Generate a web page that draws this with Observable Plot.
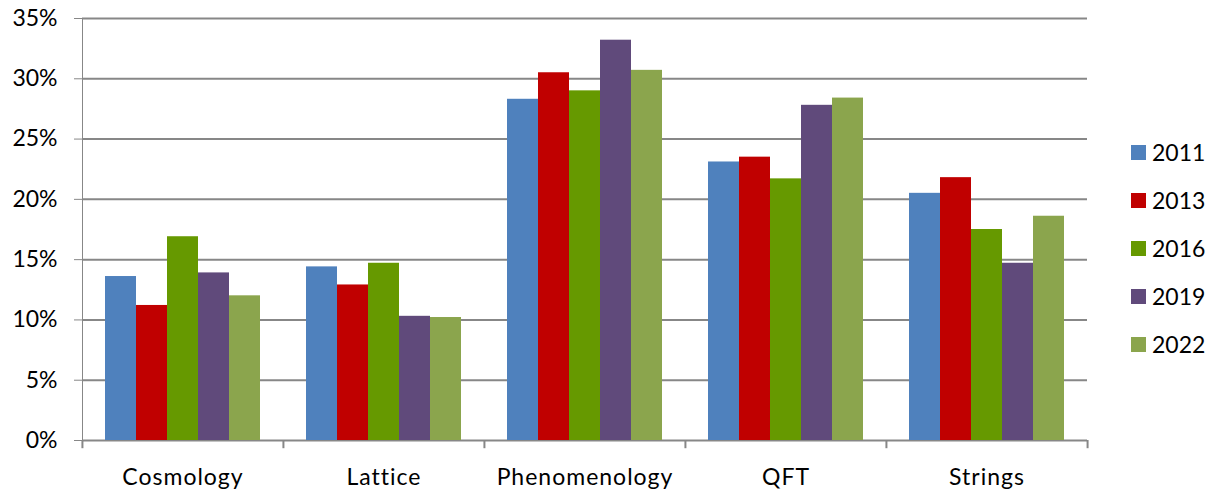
<!DOCTYPE html>
<html>
<head>
<meta charset="utf-8">
<script src="https://cdn.jsdelivr.net/npm/d3@7"></script>
<script src="https://cdn.jsdelivr.net/npm/@observablehq/plot@0.6"></script>
<style>
  html, body { margin: 0; padding: 0; background: #fff; }
  #wrap { position: relative; width: 1206px; height: 489px; font-family: Lato, "Open Sans", sans-serif; }
  #wrap svg { color: #878787; }
  #wrap svg text { fill: #000; }
  #wrap svg [aria-label="fx-axis tick label"] text, #wrap svg [aria-label="fx-axis"] text { letter-spacing: 1px; }
  .legend { position: absolute; left: 1131px; top: 0; font-size: 23px; color: #000; }
  .legend .item { position: absolute; left: 0; height: 24px; line-height: 24px; white-space: nowrap; }
  .legend .sw { display: inline-block; width: 15px; height: 15px; vertical-align: middle; margin-right: 6px; position: relative; top: -2px; }
</style>
</head>
<body>
<div id="wrap"></div>
<script>
const categories = ["Cosmology", "Lattice", "Phenomenology", "QFT", "Strings"];
const years = ["2011", "2013", "2016", "2019", "2022"];
const colors = ["#4F81BD", "#C00000", "#669900", "#604A7B", "#8BA54D"];
// share (%) per year, in category order
const v2011 = [13.6, 14.4, 28.3, 23.1, 20.5];
const v2013 = [11.2, 12.9, 30.5, 23.5, 21.8];
const v2016 = [16.9, 14.7, 29.0, 21.7, 17.5];
const v2019 = [13.9, 10.3, 33.2, 27.8, 14.7];
const v2022 = [12.0, 10.2, 30.7, 28.4, 18.6];
const yTicks = [0, 0.05, 0.10, 0.15, 0.20, 0.25, 0.30, 0.35];

const series = [v2011, v2013, v2016, v2019, v2022];
const data = [];
categories.forEach((c, ci) => years.forEach((y, yi) => data.push({cat: c, year: y, value: series[yi][ci] / 100})));

const W = 1206, H = 489, mL = 80, mR = 118, mT = 18, mB = 49;
const pad = 0.74;
const facetW = (W - mL - mR) / categories.length;
const step = facetW / (years.length + 2 * pad);
const edge = step * pad + step / 2; // distance from facet edge to first band centre

const grid = "#878787";
const plot = Plot.plot({
  width: W, height: H,
  marginLeft: mL, marginRight: mR, marginTop: mT, marginBottom: mB,
  style: {fontFamily: "Lato, 'Open Sans', sans-serif", fontSize: "23px", background: "#fff"},
  fx: {domain: categories, padding: 0, label: null, tickSize: 0, tickPadding: 28},
  x: {domain: years, paddingInner: 0, paddingOuter: pad, axis: null},
  y: {domain: [0, 0.35], ticks: yTicks, tickFormat: d => Math.round(d * 100) + "%", tickSize: 8, tickPadding: 17, label: null, line: true},
  color: {domain: years, range: colors},
  marks: [
    Plot.ruleY(yTicks, {stroke: grid, strokeWidth: 2}),
    Plot.barY(data, {fx: "cat", x: "year", y: "value", fill: "year", inset: 0}),
    Plot.ruleX(categories, {fx: d => d, x: () => years[0], y1: 0, y2: -0.0068, dx: -edge, stroke: grid, strokeWidth: 2}),
    Plot.ruleX(categories.slice(-1), {fx: d => d, x: () => years[years.length - 1], y1: 0, y2: -0.0068, dx: edge, stroke: grid, strokeWidth: 2})
  ]
});

const wrap = document.getElementById("wrap");
wrap.appendChild(plot);
const legend = document.createElement("div");
legend.className = "legend";
const rowStart = 151.5, rowGap = 48;
years.forEach((y, i) => {
  const it = document.createElement("div");
  it.className = "item";
  it.style.top = (rowStart + i * rowGap - 12) + "px";
  it.innerHTML = `<span class="sw" style="background:${colors[i]}"></span>${y}`;
  legend.appendChild(it);
});
wrap.appendChild(legend);
</script>
</body>
</html>
